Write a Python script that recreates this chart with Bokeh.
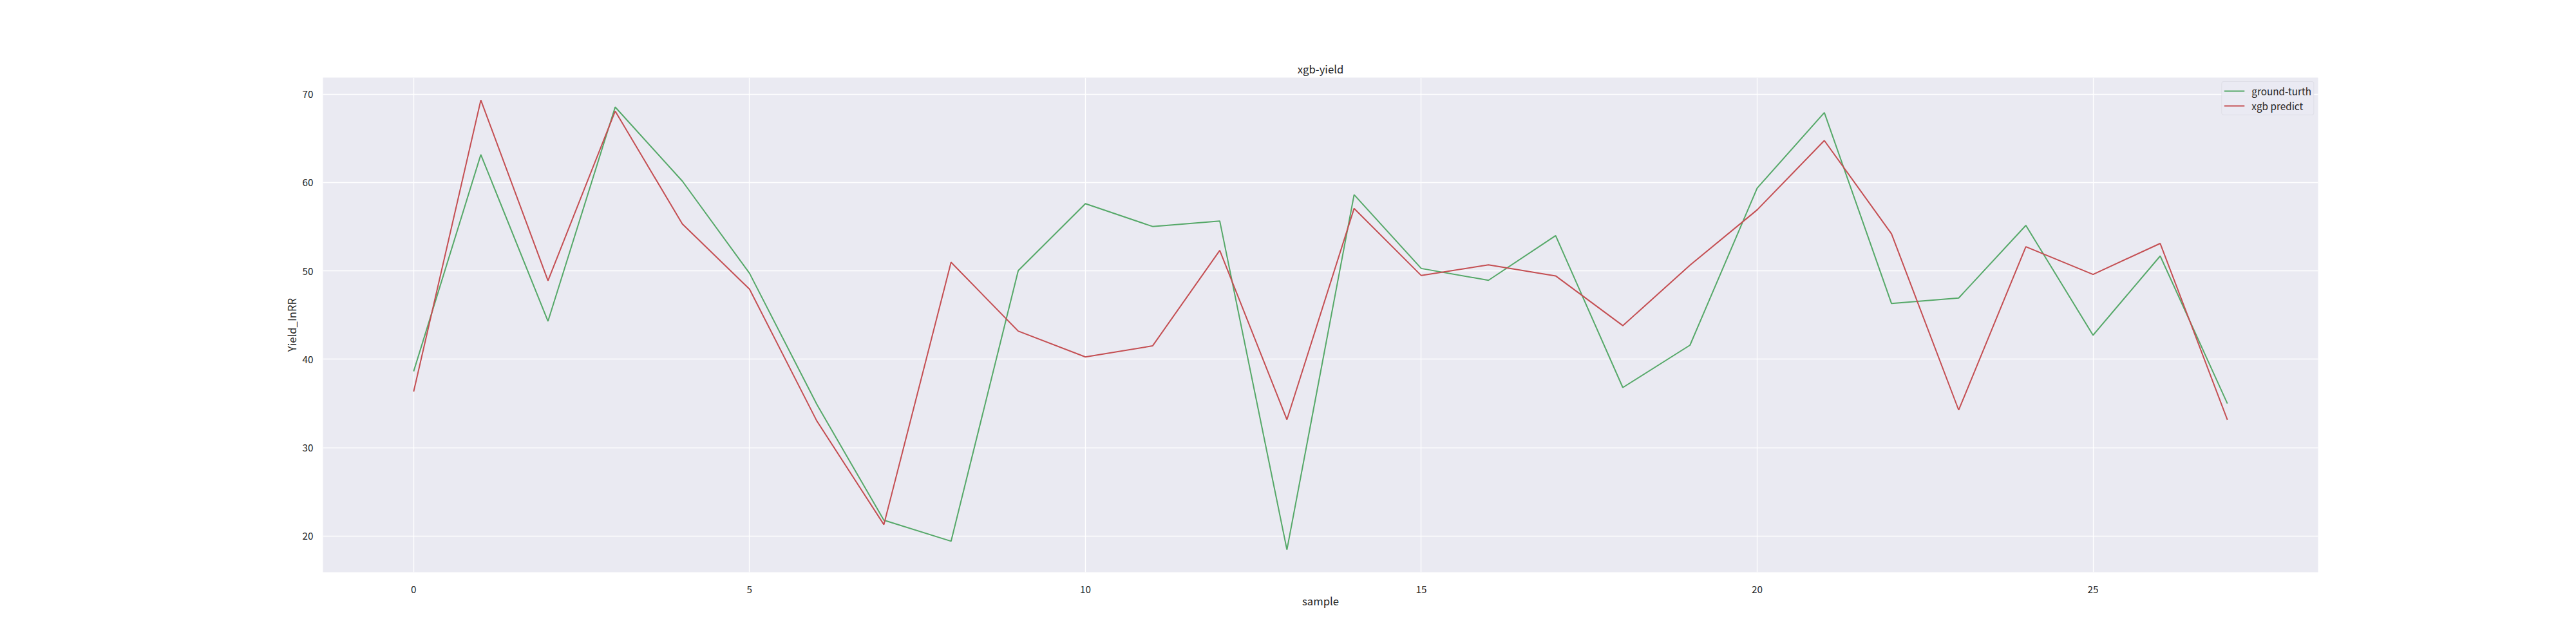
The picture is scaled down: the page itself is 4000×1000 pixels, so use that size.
from bokeh.plotting import figure
from bokeh.models import Range1d, FixedTicker, Legend, LegendItem
from bokeh.embed import file_html
from bokeh.resources import INLINE

# values
sample = list(range(28))
ground_truth = [38.64, 63.16, 44.31, 68.54, 60.16, 49.73, 34.93, 21.80, 19.42, 50.03,
                57.61, 55.03, 55.65, 18.46, 58.62, 50.28, 48.94, 53.99, 36.81, 41.60,
                59.37, 67.91, 46.31, 46.94, 55.15, 42.73, 51.69, 35.00]
xgb_predict = [36.35, 69.33, 48.90, 68.08, 55.32, 47.94, 33.05, 21.30, 50.98, 43.19,
               40.27, 41.52, 52.32, 33.18, 57.07, 49.48, 50.69, 49.44, 43.81, 50.65,
               56.91, 64.75, 54.20, 34.26, 52.74, 49.61, 53.11, 33.16]
x_ticks = [0, 5, 10, 15, 20, 25]
y_ticks = [20, 30, 40, 50, 60, 70]

FONT = "Noto Sans CJK SC"
TEXT = "#262626"
GREEN = "#55A868"
RED = "#C44E52"


def padded(lo, hi, frac=0.05):
    span = hi - lo
    return lo - span * frac, hi + span * frac


x_lo, x_hi = padded(min(sample), max(sample))
y_lo, y_hi = padded(min(ground_truth + xgb_predict), max(ground_truth + xgb_predict))

p = figure(width=3984, height=984, output_backend="svg", toolbar_location=None,
           title="xgb-yield", x_axis_label="sample", y_axis_label="Yield_InRR",
           x_range=Range1d(x_lo, x_hi), y_range=Range1d(y_lo, y_hi),
           min_border_left=501, min_border_right=385, min_border_top=120,
           min_border_bottom=96)

p.background_fill_color = "#EAEAF2"
p.border_fill_color = "white"
p.outline_line_color = None

p.title.align = "center"
p.title.text_font = FONT
p.title.text_font_size = "16.7px"
p.title.text_font_style = "normal"
p.title.text_color = TEXT
p.title.standoff = 4

for axis in (p.xaxis[0], p.yaxis[0]):
    axis.axis_line_color = None
    axis.major_tick_line_color = None
    axis.minor_tick_line_color = None
    axis.major_label_text_font = FONT
    axis.major_label_text_font_size = "15.3px"
    axis.major_label_text_color = TEXT
    axis.axis_label_text_font = FONT
    axis.axis_label_text_font_size = "16.7px"
    axis.axis_label_text_font_style = "normal"
    axis.axis_label_text_color = TEXT

p.xaxis.ticker = FixedTicker(ticks=x_ticks)
p.yaxis.ticker = FixedTicker(ticks=y_ticks)
p.xaxis.major_label_standoff = 14
p.yaxis.major_label_standoff = 9
p.xaxis.axis_label_standoff = -3
p.yaxis.axis_label_standoff = 2

p.xgrid.grid_line_color = "white"
p.ygrid.grid_line_color = "white"
p.xgrid.grid_line_width = 1.3
p.ygrid.grid_line_width = 1.3

# the two series
truth_line = p.line(sample, ground_truth, line_color=GREEN, line_width=2)
predict_line = p.line(sample, xgb_predict, line_color=RED, line_width=2)

legend = Legend(items=[LegendItem(label="ground-turth", renderers=[truth_line]),
                       LegendItem(label="xgb predict", renderers=[predict_line])],
                location="top_right")
legend.margin = 6
legend.padding = 3
legend.spacing = 1
legend.glyph_width = 32
legend.glyph_height = 16
legend.label_height = 16
legend.label_standoff = 11
legend.label_text_font = FONT
legend.label_text_font_size = "15.3px"
legend.label_text_color = TEXT
legend.background_fill_color = "#EAEAF2"
legend.background_fill_alpha = 0.8
legend.border_line_color = "#d4d4dc"
legend.border_line_width = 1.3
legend.border_radius = 4
p.add_layout(legend, "center")

open("out.html", "w").write(file_html(p, INLINE))
